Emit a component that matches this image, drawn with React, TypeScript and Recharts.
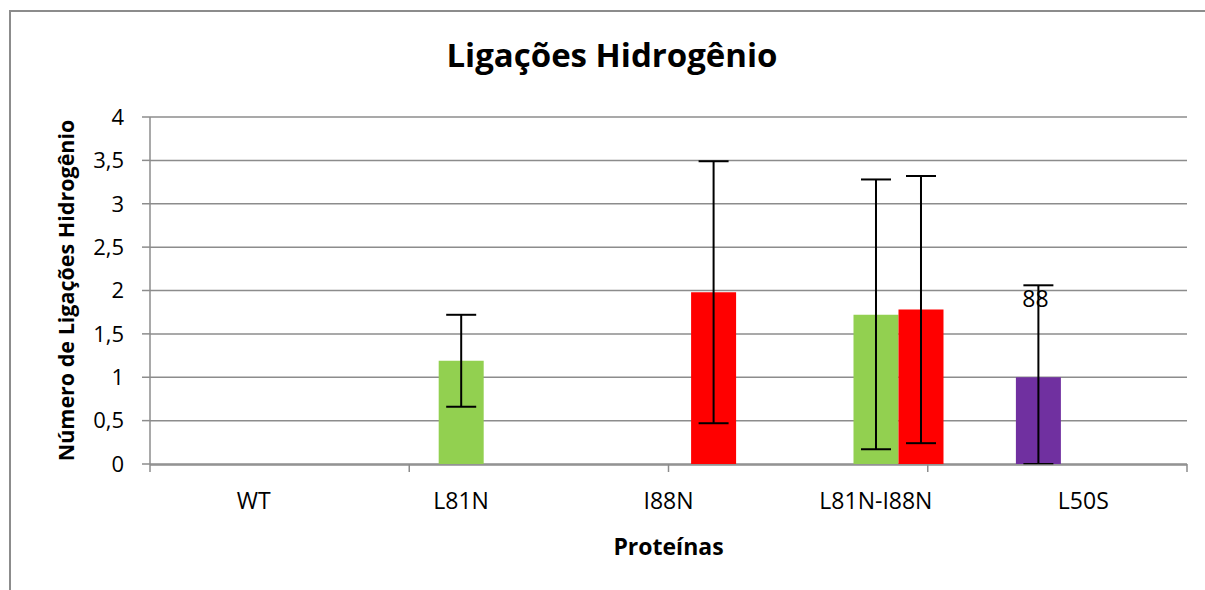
import { BarChart, Bar, XAxis, YAxis, CartesianGrid, ErrorBar, Label } from 'recharts'

const categories = ['WT', 'L81N', 'I88N', 'L81N-I88N', 'L50S']
const purpleValues = [null, null, null, null, 1.0]
const greenValues = [null, 1.19, null, 1.72, null]
const redValues = [null, null, 1.98, 1.78, null]
// [lower, upper] error amounts
const purpleErrors = [[0, 0], [0, 0], [0, 0], [0, 0], [1.0, 1.06]]
const greenErrors = [[0, 0], [0.53, 0.53], [0, 0], [1.55, 1.56], [0, 0]]
const redErrors = [[0, 0], [0, 0], [1.51, 1.51], [1.54, 1.54], [0, 0]]
const yTicks = [0, 0.5, 1, 1.5, 2, 2.5, 3, 3.5, 4]
const boundaryTicks = [0, 1, 2, 3, 4, 5]

const data = categories.map((name, i) => ({
  name,
  purple: purpleValues[i],
  green: greenValues[i],
  red: redValues[i],
  purpleErr: purpleErrors[i],
  greenErr: greenErrors[i],
  redErr: redErrors[i],
}))

const FONT = '"Open Sans", sans-serif'
const GRID = '#8c8c8c'

const fmt = (v: number) => String(v).replace('.', ',')

export default function App() {
  return (
    <div style={{ position: 'absolute', left: 0, top: 0, width: 1205, height: 590, overflow: 'hidden', background: '#fff' }}>
      <div
        style={{
          position: 'absolute',
          left: 9,
          top: 10,
          width: 1300,
          height: 700,
          border: '2px solid #8c8c8c',
        }}
      />
      <div style={{ position: 'absolute', left: 0, top: 0 }}>
        <BarChart
          width={1205}
          height={590}
          data={data}
          margin={{ top: 117, right: 18, bottom: 65, left: 90 }}
          barCategoryGap="17.5%"
          barGap={0}
        >
          <text x={612} y={67} textAnchor="middle" fontFamily={FONT} fontWeight="bold" fontSize={33} fill="#000">
            Ligações Hidrogênio
          </text>
          <CartesianGrid horizontal vertical={false} stroke={GRID} strokeWidth={1.5} />
          <XAxis
            xAxisId="b"
            type="number"
            domain={[0, 5]}
            ticks={boundaryTicks}
            height={1}
            axisLine={false}
            tickSize={8}
            tickLine={{ stroke: GRID, strokeWidth: 1.5 }}
            tick={<g />}
          />
          <XAxis
            xAxisId="cat"
            dataKey="name"
            height={60}
            tickLine={false}
            axisLine={{ stroke: GRID, strokeWidth: 1.5 }}
            tick={{ fontFamily: FONT, fontSize: 23, fill: '#000' }}
            tickMargin={22}
          >
            <Label
              value="Proteínas"
              position="insideBottom"
              offset={-30}
              style={{ fontFamily: FONT, fontWeight: 'bold', fontSize: 23, fill: '#000' }}
            />
          </XAxis>
          <YAxis
            domain={[0, 4]}
            ticks={yTicks}
            width={60}
            tickFormatter={fmt}
            tickSize={8}
            tickMargin={18}
            tickLine={{ stroke: GRID, strokeWidth: 1.5 }}
            axisLine={{ stroke: GRID, strokeWidth: 1.5 }}
            tick={{ fontFamily: FONT, fontSize: 22, fill: '#000' }}
          >
            <Label
              value="Número de Ligações  Hidrogênio"
              angle={-90}
              position="insideLeft"
              offset={-24}
              style={{ fontFamily: FONT, fontWeight: 'bold', fontSize: 21.5, fill: '#000', textAnchor: 'middle' }}
            />
          </YAxis>
          <Bar
            xAxisId="cat"
            dataKey="purple"
            fill="#7030A0"
            isAnimationActive={false}
            label={(p: any) =>
              p.value ? (
                <text x={p.x + p.width / 2 - 3} y={p.y - 70} textAnchor="middle" fontFamily={FONT} fontSize={23} fill="#000">
                  88
                </text>
              ) : null
            }
          >
            <ErrorBar dataKey="purpleErr" width={15} stroke="#000" strokeWidth={2} isAnimationActive={false} />
          </Bar>
          <Bar xAxisId="cat" dataKey="green" fill="#92D050" isAnimationActive={false}>
            <ErrorBar dataKey="greenErr" width={15} stroke="#000" strokeWidth={2} isAnimationActive={false} />
          </Bar>
          <Bar xAxisId="cat" dataKey="red" fill="#FF0000" isAnimationActive={false}>
            <ErrorBar dataKey="redErr" width={15} stroke="#000" strokeWidth={2} isAnimationActive={false} />
          </Bar>
        </BarChart>
      </div>
    </div>
  )
}
